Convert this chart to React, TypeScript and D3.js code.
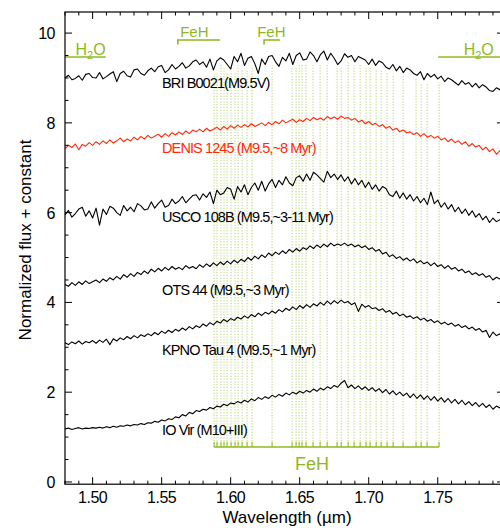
import React from "react";
import * as d3 from "d3";

const W = 500;
const H = 528;
const FONT = "'Liberation Sans', Arial, Helvetica, sans-serif";
const GREEN = "#8fb81e";
const RED = "#ff2a0a";

// wavelength grid (µm)
const WL_START = 1.48;
const WL_STEP = 0.0025;

const briB0021 = [
  9.00, 9.06, 8.96, 8.99, 9.05, 8.95, 9.08, 9.10, 9.01, 9.00,
  9.12, 8.98, 9.03, 9.09, 9.14, 8.92, 9.10, 9.15, 9.05, 9.02,
  9.18, 9.20, 9.10, 9.06, 9.16, 9.22, 9.14, 9.25, 9.28, 9.12,
  9.18, 9.30, 9.20, 9.26, 9.34, 9.22, 9.27, 9.36, 9.40, 9.30,
  9.36, 9.24, 9.42, 9.18, 9.38, 9.45, 9.40, 9.30, 9.20, 9.48,
  9.36, 9.55, 9.28, 9.44, 9.48, 9.32, 9.10, 9.42, 9.30, 9.48,
  9.50, 9.36, 9.26, 9.46, 9.38, 9.55, 9.30, 9.50, 9.56, 9.40,
  9.42, 9.58, 9.50, 9.36, 9.52, 9.60, 9.40, 9.55, 9.44, 9.30,
  9.38, 9.54, 9.46, 9.50, 9.36, 9.48, 9.44, 9.40, 9.30, 9.42,
  9.28, 9.38, 9.34, 9.24, 9.20, 9.30, 9.16, 9.26, 9.12, 9.22,
  9.18, 9.10, 9.06, 9.14, 8.96, 9.10, 9.02, 9.08, 8.98, 9.04,
  8.92, 9.00, 8.96, 8.90, 8.84, 8.94, 8.86, 8.90, 8.80, 8.88,
  8.78, 8.85, 8.80, 8.72, 8.70, 8.78, 8.74, 8.70,
];

const denis1245 = [
  7.42, 7.50, 7.45, 7.53, 7.40, 7.52, 7.48, 7.56, 7.50, 7.58,
  7.52, 7.60, 7.54, 7.62, 7.55, 7.60, 7.66, 7.58, 7.64, 7.60,
  7.68, 7.62, 7.70, 7.64, 7.72, 7.66, 7.70, 7.75, 7.68, 7.76,
  7.70, 7.78, 7.73, 7.80, 7.74, 7.82, 7.76, 7.84, 7.80, 7.86,
  7.80, 7.88, 7.82, 7.86, 7.90, 7.84, 7.92, 7.86, 7.94, 7.88,
  7.95, 7.90, 7.96, 7.91, 7.98, 7.92, 7.96, 8.00, 7.94, 8.01,
  7.96, 8.03, 7.98, 8.06, 8.00, 8.04, 8.08, 8.01, 8.07, 8.03,
  8.10, 8.05, 8.12, 8.07, 8.11, 8.06, 8.14, 8.09, 8.13, 8.08,
  8.15, 8.10, 8.12, 8.06, 8.10, 8.02, 8.06, 7.98, 8.03, 7.96,
  7.99, 7.92, 7.96, 7.88, 7.92, 7.84, 7.88, 7.80, 7.84, 7.78,
  7.80, 7.74, 7.78, 7.70, 7.76, 7.68, 7.72, 7.66, 7.70, 7.62,
  7.66, 7.58, 7.64, 7.56, 7.60, 7.52, 7.58, 7.48, 7.54, 7.46,
  7.50, 7.40, 7.46, 7.36, 7.42, 7.30, 7.38, 7.34,
];

const usco108B = [
  5.95, 6.05, 5.90, 5.98, 6.08, 6.12, 5.92, 6.04, 5.88, 6.10,
  5.72, 6.08, 5.96, 6.14, 6.10, 6.00, 5.94, 6.16, 6.04, 6.12,
  6.02, 6.20, 6.15, 6.06, 6.08, 6.24, 6.10, 6.20, 6.28, 6.12,
  6.16, 6.30, 6.20, 6.26, 6.36, 6.22, 6.30, 6.38, 6.40, 6.28,
  6.42, 6.34, 6.46, 6.20, 6.50, 6.40, 6.44, 6.56, 6.52, 6.30,
  6.58, 6.46, 6.62, 6.40, 6.56, 6.66, 6.50, 6.70, 6.48, 6.64,
  6.74, 6.56, 6.72, 6.62, 6.80, 6.66, 6.60, 6.78, 6.82, 6.70,
  6.86, 6.72, 6.90, 6.84, 6.76, 6.68, 6.92, 6.78, 6.86, 6.74,
  6.84, 6.70, 6.80, 6.64, 6.76, 6.62, 6.72, 6.56, 6.68, 6.52,
  6.62, 6.48, 6.58, 6.54, 6.40, 6.36, 6.48, 6.32, 6.44, 6.30,
  6.40, 6.26, 6.36, 6.22, 6.32, 6.18, 6.46, 6.20, 6.28, 6.12,
  6.22, 6.08, 6.18, 6.02, 6.12, 5.98, 6.08, 5.94, 6.04, 5.90,
  5.98, 5.84, 5.92, 5.78, 5.88, 5.80, 5.84, 5.82,
];

const ots44 = [
  4.40, 4.36, 4.44, 4.38, 4.46, 4.40, 4.48, 4.42, 4.46, 4.50,
  4.44, 4.52, 4.47, 4.55, 4.50, 4.58, 4.52, 4.62, 4.56, 4.64,
  4.58, 4.67, 4.62, 4.70, 4.64, 4.74, 4.68, 4.76, 4.70, 4.78,
  4.72, 4.80, 4.74, 4.78, 4.73, 4.82, 4.76, 4.80, 4.75, 4.84,
  4.78, 4.86, 4.80, 4.88, 4.82, 4.90, 4.84, 4.92, 4.86, 4.94,
  4.88, 4.96, 4.91, 5.00, 4.94, 5.03, 4.97, 5.06, 5.00, 5.10,
  5.04, 5.12, 5.07, 5.15, 5.09, 5.18, 5.12, 5.20, 5.14, 5.22,
  5.18, 5.26, 5.20, 5.28, 5.22, 5.30, 5.24, 5.32, 5.26, 5.30,
  5.27, 5.32, 5.26, 5.30, 5.24, 5.28, 5.22, 5.26, 5.18, 5.22,
  5.14, 5.18, 5.08, 5.12, 5.02, 5.06, 4.98, 5.02, 4.94, 4.99,
  4.92, 4.97, 4.88, 4.93, 4.86, 4.90, 4.82, 4.88, 4.80, 4.84,
  4.76, 4.82, 4.74, 4.78, 4.70, 4.74, 4.66, 4.70, 4.62, 4.66,
  4.60, 4.64, 4.56, 4.60, 4.50, 4.56, 4.52, 4.50,
];

const kpnoTau4 = [
  3.10, 3.06, 3.12, 3.08, 3.14, 3.07, 3.13, 3.10, 3.15, 3.09,
  3.16, 3.11, 3.18, 3.06, 3.19, 3.14, 3.21, 3.17, 3.24, 3.19,
  3.26, 3.21, 3.28, 3.24, 3.30, 3.26, 3.33, 3.28, 3.36, 3.31,
  3.38, 3.33, 3.40, 3.36, 3.43, 3.38, 3.46, 3.41, 3.48, 3.44,
  3.52, 3.47, 3.55, 3.50, 3.58, 3.54, 3.62, 3.57, 3.64, 3.60,
  3.67, 3.63, 3.70, 3.65, 3.73, 3.68, 3.76, 3.71, 3.78, 3.74,
  3.81, 3.76, 3.84, 3.79, 3.87, 3.82, 3.90, 3.84, 3.93, 3.87,
  3.95, 3.89, 3.97, 3.92, 4.00, 3.94, 4.03, 3.96, 4.04, 3.98,
  4.05, 3.99, 4.02, 3.95, 3.99, 3.80, 3.96, 3.89, 3.93, 3.86,
  3.88, 3.82, 3.86, 3.78, 3.82, 3.74, 3.78, 3.70, 3.74, 3.67,
  3.70, 3.64, 3.68, 3.61, 3.65, 3.58, 3.62, 3.55, 3.59, 3.52,
  3.56, 3.50, 3.54, 3.47, 3.51, 3.44, 3.48, 3.41, 3.45, 3.38,
  3.42, 3.34, 3.38, 3.22, 3.34, 3.26, 3.30, 3.24,
];

const ioVir = [
  1.18, 1.20, 1.17, 1.19, 1.21, 1.18, 1.20, 1.19, 1.21, 1.20,
  1.22, 1.20, 1.23, 1.21, 1.24, 1.22, 1.25, 1.24, 1.27, 1.25,
  1.28, 1.27, 1.30, 1.28, 1.32, 1.31, 1.35, 1.33, 1.38, 1.36,
  1.41, 1.39, 1.45, 1.43, 1.50, 1.47, 1.55, 1.52, 1.59, 1.57,
  1.62, 1.60, 1.66, 1.63, 1.69, 1.67, 1.73, 1.70, 1.76, 1.74,
  1.79, 1.76, 1.82, 1.78, 1.85, 1.81, 1.88, 1.84, 1.90, 1.86,
  1.93, 1.89, 1.95, 1.91, 1.98, 1.94, 2.00, 1.96, 2.02, 1.98,
  2.04, 2.00, 2.07, 2.02, 2.09, 2.05, 2.12, 2.08, 2.15, 2.11,
  2.20, 2.26, 2.10, 2.16, 2.08, 2.14, 2.06, 2.12, 2.04, 2.10,
  2.02, 2.08, 1.99, 2.06, 1.96, 2.03, 1.94, 2.00, 1.92, 1.98,
  1.88, 1.96, 1.86, 1.94, 1.84, 1.92, 1.82, 1.90, 1.80, 1.88,
  1.78, 1.86, 1.76, 1.84, 1.74, 1.82, 1.72, 1.79, 1.70, 1.77,
  1.68, 1.75, 1.66, 1.72, 1.62, 1.69, 1.65, 1.62,
];

const spectra = [
  { name: "BRI B0021(M9.5V)", values: briB0021, color: "#000", labelY: 8.78 },
  { name: "DENIS 1245 (M9.5,~8 Myr)", values: denis1245, color: RED, labelY: 7.33 },
  { name: "USCO 108B (M9.5,~3-11 Myr)", values: usco108B, color: "#000", labelY: 5.79 },
  { name: "OTS 44 (M9.5,~3 Myr)", values: ots44, color: "#000", labelY: 4.16 },
  { name: "KPNO Tau 4 (M9.5,~1 Myr)", values: kpnoTau4, color: "#000", labelY: 2.83 },
  { name: "IO Vir (M10+III)", values: ioVir, color: "#000", labelY: 1.05 },
];
const LABEL_WL = 1.5503;

// FeH line positions (µm)
const fehLines = [
  1.5880, 1.5901, 1.5930, 1.5952, 1.5974, 1.6003, 1.6032, 1.6054, 1.6083,
  1.6119, 1.6155, 1.6300, 1.6445, 1.6474, 1.6496, 1.6517, 1.6546, 1.6597,
  1.6648, 1.6699, 1.6771, 1.6801, 1.6851, 1.6894, 1.6938, 1.6981, 1.7010,
  1.7054, 1.7090, 1.7133, 1.7177, 1.7249, 1.7343, 1.7380, 1.7423, 1.7510,
];
const FEH_BRACKET_Y = 0.78;
const FEH_LABEL_WL = 1.659;

// top band annotations
const h2oBands = [
  { from: 1.48, to: 1.5095, labelAt: 1.4985 },
  { from: 1.7503, to: 1.80, labelAt: 1.7797 },
];
const fehBands = [
  { from: 1.5617, to: 1.5923, labelAt: 1.5737 },
  { from: 1.6242, to: 1.6358, labelAt: 1.6295 },
];

const xTicks = [1.5, 1.55, 1.6, 1.65, 1.7, 1.75];
const yTicks = [0, 2, 4, 6, 8, 10];

export default function App() {
  const x = d3.scaleLinear().domain([1.48, 1.798]).range([65, 504]);
  const y = d3.scaleLinear().domain([-0.05, 10.47]).range([484.2, 12]);
  const left = 65, right = 504, top = 12, bottom = 484.2;

  const wl = (i: number) => WL_START + i * WL_STEP;
  const line = d3
    .line<number>()
    .x((_, i) => x(wl(i)))
    .y((d) => y(d));

  const xMinor = d3.range(148, 180).map((v) => v / 100);
  const yMinor = d3.range(0, 21).map((v) => v / 2);

  const briAt = (lam: number) => {
    const i = Math.round((lam - WL_START) / WL_STEP);
    const a = briB0021[Math.max(0, i - 1)];
    const b = briB0021[i];
    const c = briB0021[Math.min(briB0021.length - 1, i + 1)];
    return Math.min(a, b, c) - 0.08;
  };

  return (
    <svg
      width={W}
      height={H}
      style={{ position: "absolute", left: 0, top: 0, background: "#fff" }}
      fontFamily={FONT}
    >
      <rect width={W} height={H} fill="#fff" />
      {/* FeH dotted lines */}
      {fehLines.map((l, i) => (
        <line
          key={"fl" + i}
          x1={x(l)}
          x2={x(l)}
          y1={y(FEH_BRACKET_Y)}
          y2={y(briAt(l))}
          stroke={GREEN}
          strokeWidth={0.9}
          strokeDasharray="1.2 1.6"
          opacity={0.7}
        />
      ))}
      {/* FeH bracket bottom */}
      <line
        x1={x(fehLines[0])}
        x2={x(fehLines[fehLines.length - 1])}
        y1={y(FEH_BRACKET_Y)}
        y2={y(FEH_BRACKET_Y)}
        stroke={GREEN}
        strokeWidth={1.6}
      />
      {fehLines.map((l, i) => (
        <line
          key={"ft" + i}
          x1={x(l)}
          x2={x(l)}
          y1={y(FEH_BRACKET_Y)}
          y2={y(FEH_BRACKET_Y) - 5}
          stroke={GREEN}
          strokeWidth={1}
        />
      ))}
      <text
        x={x(FEH_LABEL_WL)}
        y={470}
        textAnchor="middle"
        fontSize={18}
        fill={GREEN}
      >
        FeH
      </text>

      {/* spectra */}
      {spectra.map((s) => (
        <path
          key={s.name}
          d={line(s.values) || ""}
          fill="none"
          stroke={s.color}
          strokeWidth={1.1}
          strokeLinejoin="round"
        />
      ))}
      {spectra.map((s) => (
        <text
          key={"lb" + s.name}
          x={x(LABEL_WL)}
          y={y(s.labelY)}
          fontSize={14.5}
          letterSpacing={-0.9}
          fill={s.color}
        >
          {s.name}
        </text>
      ))}

      {/* H2O bands */}
      {h2oBands.map((b, i) => (
        <g key={"h" + i}>
          <line
            x1={x(b.from)}
            x2={x(b.to)}
            y1={57}
            y2={57}
            stroke={GREEN}
            strokeWidth={1.6}
          />
          <text
            x={x(b.labelAt)}
            y={55}
            textAnchor="middle"
            fontSize={16}
            fill={GREEN}
          >
            H
            <tspan fontSize={11} dy={4}>2</tspan>
            <tspan dy={-4}>O</tspan>
          </text>
        </g>
      ))}
      {/* FeH top bands */}
      {fehBands.map((b, i) => (
        <g key={"fb" + i}>
          <path
            d={`M${x(b.from)},44.5 V40 H${x(b.to)}`}
            fill="none"
            stroke={GREEN}
            strokeWidth={1.6}
          />
          <text
            x={x(b.labelAt)}
            y={37}
            textAnchor="middle"
            fontSize={15}
            fill={GREEN}
          >
            FeH
          </text>
        </g>
      ))}

      {/* axes frame */}
      <rect
        x={left}
        y={top}
        width={right - left}
        height={bottom - top}
        fill="none"
        stroke="#000"
        strokeWidth={1.2}
      />
      {xMinor.map((v, i) => {
        const major = Math.abs(v * 20 - Math.round(v * 20)) < 1e-6;
        const len = major ? 7 : 3.5;
        return (
          <g key={"xm" + i}>
            <line x1={x(v)} x2={x(v)} y1={bottom} y2={bottom - len} stroke="#000" strokeWidth={1} />
            <line x1={x(v)} x2={x(v)} y1={top} y2={top + len} stroke="#000" strokeWidth={1} />
          </g>
        );
      })}
      {yMinor.map((v, i) => {
        const major = Math.abs(v / 2 - Math.round(v / 2)) < 1e-6;
        const len = major ? 7 : 3.5;
        return (
          <g key={"ym" + i}>
            <line x1={left} x2={left + len} y1={y(v)} y2={y(v)} stroke="#000" strokeWidth={1} />
            <line x1={right} x2={right - len} y1={y(v)} y2={y(v)} stroke="#000" strokeWidth={1} />
          </g>
        );
      })}
      {xTicks.map((t) => (
        <text key={"xt" + t} x={x(t)} y={503} textAnchor="middle" fontSize={16} letterSpacing={-0.5}>
          {t.toFixed(2)}
        </text>
      ))}
      {yTicks.map((t) => (
        <text key={"yt" + t} x={55} y={y(t) + 6} textAnchor="end" fontSize={16} letterSpacing={-0.5}>
          {t}
        </text>
      ))}
      <text x={287} y={523} textAnchor="middle" fontSize={17}>
        Wavelength (µm)
      </text>
      <text
        transform={`translate(31,240) rotate(-90)`}
        textAnchor="middle"
        fontSize={17}
      >
        Normalized flux + constant
      </text>
    </svg>
  );
}
